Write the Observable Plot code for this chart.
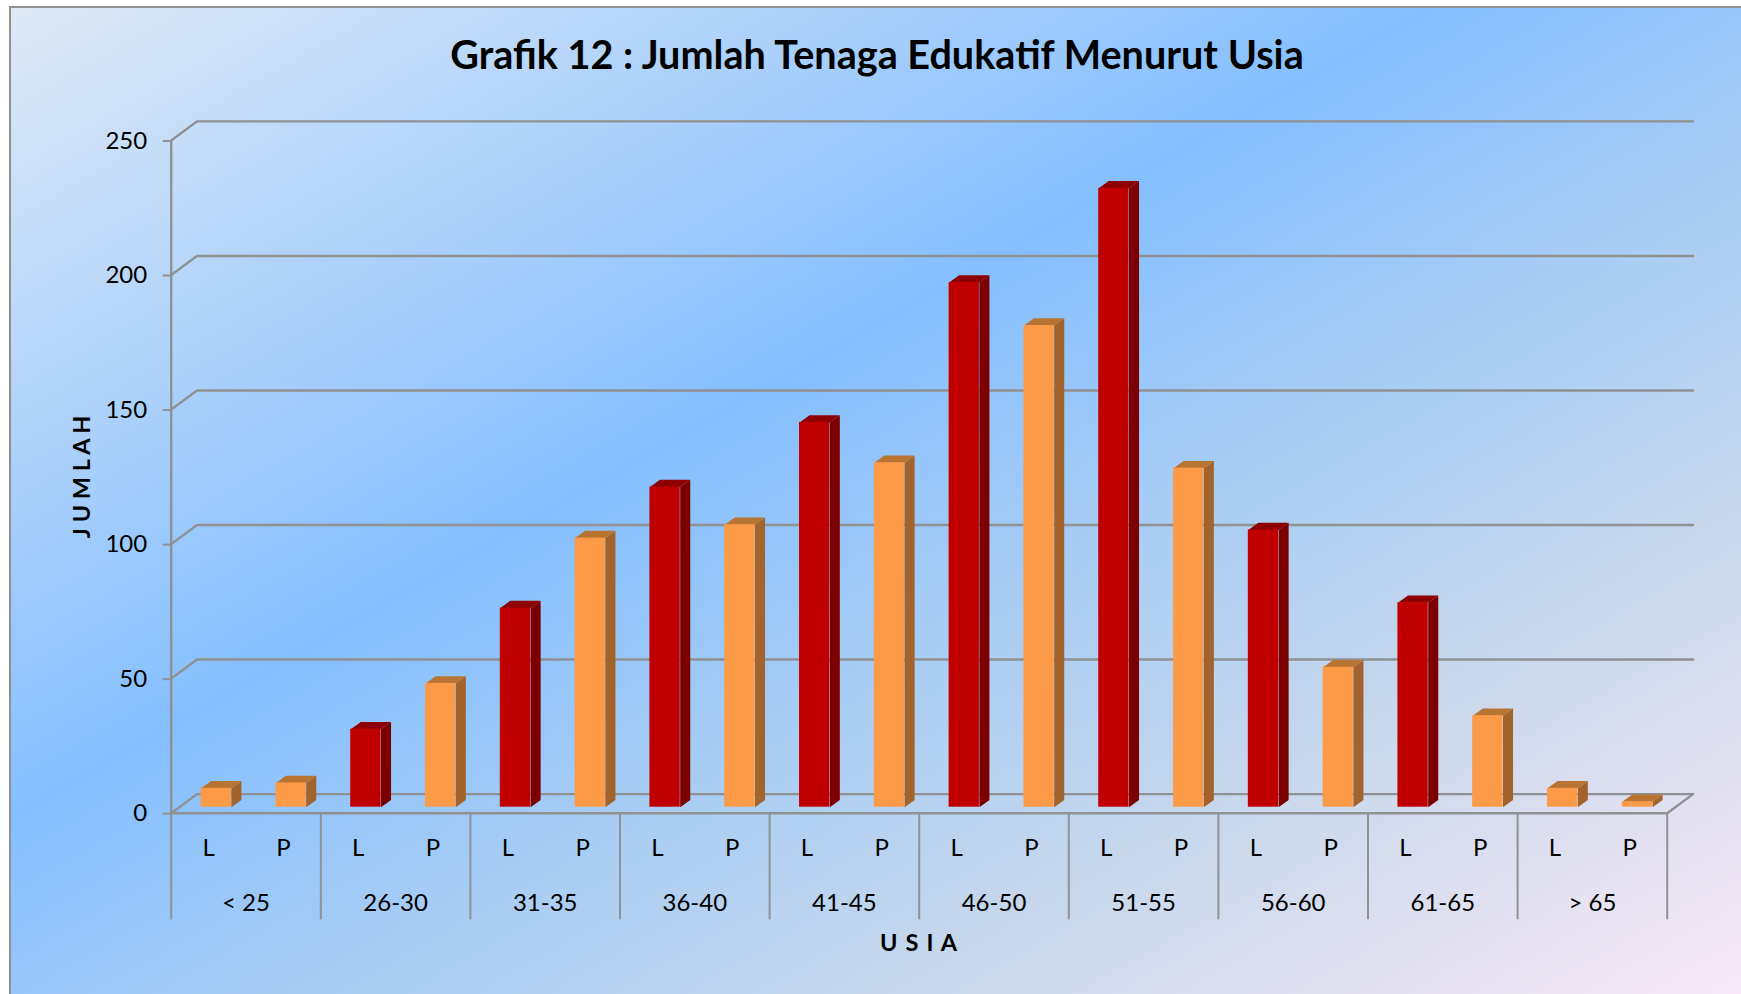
<!DOCTYPE html>
<html>
<head>
<meta charset="utf-8">
<script src="https://cdn.jsdelivr.net/npm/d3@7"></script>
<script src="https://cdn.jsdelivr.net/npm/@observablehq/plot@0.6"></script>
<style>
html,body{margin:0;padding:0;background:#fff;overflow:hidden;}
#panel{position:absolute;left:9px;top:6px;width:1732px;height:988px;box-sizing:border-box;border-left:2px solid #8f8f8f;border-top:2px solid #8f8f8f;
background:linear-gradient(to bottom right,#dfe9f5 0%,#85bfff 41%,#a8cdf4 59%,#c6d7ec 75%,#e0e0f0 88%,#f8e8f7 100%);overflow:hidden;}
#title{height:112px;box-sizing:border-box;padding-top:25px;width:1732px;text-align:center;font:700 39.6px Lato,sans-serif;color:#000;line-height:42px;}
svg{display:block;}
.spaced{letter-spacing:1.2px;}
</style>
</head>
<body>
<div id="panel"><div id="title">Grafik 12 : Jumlah Tenaga Edukatif Menurut Usia</div></div>
<script>
const groups = ["< 25","26-30","31-35","36-40","41-45","46-50","51-55","56-60","61-65","> 65"];
const sexes = ["L","P"];
const valuesL = [7,29,74,119,143,195,230,103,76,7];
const valuesP = [9,46,100,105,128,179,126,52,34,2];
const colorsL = ["orange","red","red","red","red","red","red","red","red","orange"];
const colorsP = ["orange","orange","orange","orange","orange","orange","orange","orange","orange","orange"];
const yTicks = [0,50,100,150,200,250];

// 3-D perspective constants, in data units (1 slot ≈ 74.8px, 1 unit ≈ 2.69px)
const wallDx = 0.345, wallDy = 7.1;
const barLeft = 0.40, barW = 0.405, barDx = 0.134, barDy = 2.7, barBase = 2.23;

const palette = {
  red:{front:"#c00000",side:"#7c0000",top:"#8e0000"},
  orange:{front:"#fd9a48",side:"#a2632c",top:"#ba7431"}
};

const bars = [];
groups.forEach((g,i)=>{
  bars.push({group:g,sex:"L",value:valuesL[i],slot:i*2,tone:colorsL[i]});
  bars.push({group:g,sex:"P",value:valuesP[i],slot:i*2+1,tone:colorsP[i]});
});

const faces = [];
bars.forEach((b,k)=>{
  const x0=b.slot+barLeft, x1=x0+barW, y0=barBase, y1=barBase+b.value;
  const add=(face,pts)=>pts.forEach(([x,y])=>faces.push({id:k+face,x,y,color:palette[b.tone][face]}));
  add("side",[[x1,y0],[x1+barDx,y0+barDy],[x1+barDx,y1+barDy],[x1,y1]]);
  add("top",[[x0,y1],[x0+barDx,y1+barDy],[x1+barDx,y1+barDy],[x1,y1]]);
});

const grid = [];
yTicks.forEach(v=>{
  grid.push({id:v,x:0,y:v},{id:v,x:wallDx,y:v+wallDy},{id:v,x:20+wallDx,y:v+wallDy});
});
grid.push({id:"floor",x:20,y:0},{id:"floor",x:20+wallDx,y:wallDy});

const line = "#8f9193";
const font = 24;

const chart = Plot.plot({
  width:1730, height:874,
  marginLeft:159.7, marginRight:74.3, marginTop:20, marginBottom:181.3,
  style:{background:"transparent",fontFamily:"Lato,sans-serif",color:"#000",overflow:"visible"},
  x:{type:"linear",domain:[0,20],axis:null},
  y:{type:"linear",domain:[0,250],axis:null},
  color:{type:"identity"},
  marks:[
    Plot.line(grid,{x:"x",y:"y",z:"id",stroke:line,strokeWidth:2.4}),
    Plot.ruleX([0],{y1:0,y2:250,stroke:line,strokeWidth:2.4}),
    Plot.ruleY([0],{x1:0,x2:20,stroke:line,strokeWidth:2.4}),
    Plot.axisY({ticks:yTicks,tickSize:8,tickPadding:16,label:null,fontSize:font,stroke:line,strokeWidth:2,fill:"#000",textStroke:"none",dy:0.5}),
    Plot.axisX({ticks:d3.range(0,21,2),tickSize:106.6,tickFormat:()=>"",label:null,stroke:line,strokeWidth:2}),
    Plot.axisX({ticks:d3.range(0,20).map(d=>d+0.5),tickSize:0,tickPadding:26,tickFormat:d=>sexes[Math.floor(d)%2],label:null,fontSize:font,fill:"#000"}),
    Plot.axisX({ticks:groups.map((g,i)=>i*2+1),tickSize:0,tickPadding:81,tickFormat:d=>groups[(d-1)/2],label:null,fontSize:font,fill:"#000"}),
    Plot.line(faces,{x:"x",y:"y",z:"id",fill:"color",stroke:"none",curve:"linear-closed"}),
    Plot.rect(bars,{x1:d=>d.slot+barLeft,x2:d=>d.slot+barLeft+barW,y1:barBase,y2:d=>barBase+d.value,fill:d=>palette[d.tone].front}),
    Plot.text(["J U M L A H"],{frameAnchor:"left",textAnchor:"middle",rotate:-90,dx:-88.7,fontSize:23.5,fontWeight:700,fill:"#000"}),
    Plot.text(["U S I A"],{frameAnchor:"bottom",textAnchor:"middle",dy:138,fontSize:23.5,fontWeight:700,fill:"#000",className:"spaced"})
  ]
});
document.getElementById("panel").appendChild(chart);
</script>
</body>
</html>
